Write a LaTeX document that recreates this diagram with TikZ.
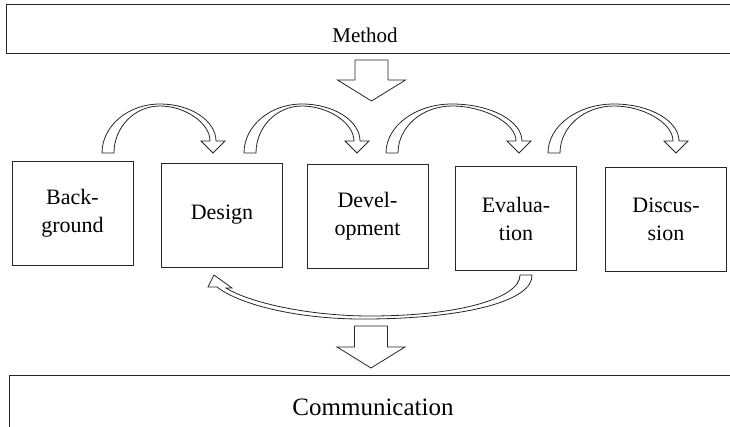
\documentclass[tikz,border=0pt]{standalone}
\usepackage{fontspec}
\setmainfont{Liberation Serif}
\newfontfamily\labelserif{Liberation Serif}

% Curved block arrow hopping from one stage to the next.
% #1 = left x of the tail, #2 = x of the crest, #3 = x of the arrow tip
\newcommand\hoparrow[3]{%
  \draw[blockline]
    (#1,153) .. controls (#1,126) and ({#2-0.552*(#2-#1)},104) .. (#2,104)
    .. controls ({#2+0.552*(#3+3-#2)},104) and ({#3+3},121) .. ({#3+3},141)
    -- ({#3+12},141) -- (#3,153) -- ({#3-12},141) -- ({#3-3},141)
    .. controls ({#3-3},123) and ({#2+0.5*(#3-3-#2)},106) .. (#2,106)
    .. controls ({#2-0.552*(#2-#1-12)},106) and ({#1+12},127) .. ({#1+12},153)
    -- cycle;}

% Straight block arrow pointing down.
% #1 = centre x, #2 = top of shaft, #3 = base of head, #4 = tip
\newcommand\downblock[4]{%
  \draw[blockline]
    ({#1-16.5},#2) -- ({#1+16.5},#2) -- ({#1+16.5},#3) -- ({#1+34},#3)
    -- (#1,#4) -- ({#1-34},#3) -- ({#1-16.5},#3) -- cycle;}

\begin{document}
\begin{tikzpicture}[x=1pt,y=-1pt,
    blockline/.style={draw=black!85, line width=0.8pt, fill=white, line join=miter},
    stagebox/.style={draw=black!85, line width=0.8pt, minimum width=121pt,
      minimum height=104pt, align=center, inner sep=0pt,
      font=\labelserif\fontsize{22}{28}\selectfont},
    bandtext/.style={inner sep=0pt}]
  \useasboundingbox (0,0) rectangle (730,427);
  \begin{scope}
    \clip (0,0) rectangle (730,427);

    % top and bottom bands (run off the right and bottom edges)
    \draw[draw=black!85, line width=0.8pt] (6,4) rectangle (760,53);
    \node[bandtext, font=\labelserif\fontsize{21}{25}\selectfont] (method) at (365,35) {Method};
    \draw[draw=black!85, line width=0.8pt] (9,375) rectangle (760,460);
    \node[bandtext, font=\labelserif\fontsize{25}{30}\selectfont] (comm) at (373,407) {Communication};

    % the five stages
    \node[stagebox] (bg)   at (72.5,213.5) {Back-\\ground};
    \node[stagebox] (des)  at (222,215)    {Design};
    \node[stagebox] (dev)  at (367.5,216.5) {Devel-\\opment};
    \node[stagebox] (eva)  at (516,218.5)  {Evalua-\\tion};
    \node[stagebox] (dis)  at (666,219.5)  {Discus-\\sion};

    % flow from method into the stages and from the stages out to communication
    \downblock{371.5}{60}{80}{101}
    \downblock{371}{326}{347}{368}

    % hops between neighbouring stages
    \hoparrow{102}{160}{213}
    \hoparrow{244}{302}{357}
    \hoparrow{386}{452}{519}
    \hoparrow{548}{614}{676}

    % feedback from evaluation back to design
    \draw[blockline]
      (520,275) -- (532,275)
      .. controls (533,300) and (470,318) .. (370,319)
      .. controls (300,320) and (240,305) .. (217,287)
      -- (208,287) -- (214,275) -- (232,288) -- (226,288)
      .. controls (250,303) and (310,316) .. (370,316)
      .. controls (460,316) and (520,298) .. (520,275) -- cycle;
  \end{scope}
\end{tikzpicture}
\end{document}
